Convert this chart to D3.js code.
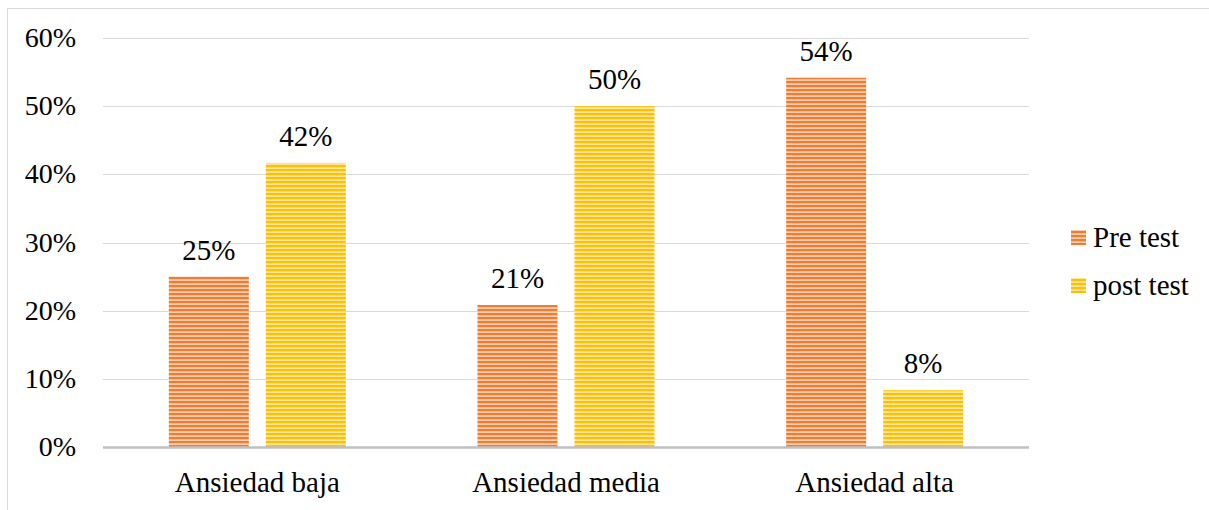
<!DOCTYPE html>
<html>
<head>
<meta charset="utf-8">
<script src="https://cdn.jsdelivr.net/npm/d3@7"></script>
</head>
<body style="margin:0;background:#fff">
<div id="chart"></div>
<script>
const categories = ["Ansiedad baja", "Ansiedad media", "Ansiedad alta"];
const seriesNames = ["Pre test", "post test"];
const preTest = [0.25, 0.2083, 0.5417];
const postTest = [0.4167, 0.50, 0.0833];
const yTicks = [0, 0.1, 0.2, 0.3, 0.4, 0.5, 0.6];

const width = 1209, height = 510;
const font = "'Times New Roman', 'Liberation Serif', Tinos, FreeSerif, serif";
const colours = { "Pre test": "#ED7D31", "post test": "#FFC000" };
const light = { "Pre test": "#F8CBAD", "post test": "#FFE699" };

const svg = d3.select("#chart").append("svg")
  .attr("width", width).attr("height", height);

// striped fills
const defs = svg.append("defs");
seriesNames.forEach((s, i) => {
  const p = defs.append("pattern")
    .attr("id", "stripe" + i)
    .attr("patternUnits", "userSpaceOnUse")
    .attr("width", 8).attr("height", 4);
  p.append("rect").attr("width", 8).attr("height", 4).attr("fill", light[s]);
  p.append("rect").attr("y", 1).attr("width", 8).attr("height", 2.2).attr("fill", colours[s]);
});

// outer chart border
svg.append("rect")
  .attr("x", 7.5).attr("y", 8.5)
  .attr("width", 1250).attr("height", 600)
  .attr("fill", "none").attr("stroke", "#D9D9D9");

const x0 = d3.scaleBand().domain(categories).range([103, 1029]);
const y = d3.scaleLinear().domain([0, 0.6]).range([447, 38]);
const barW = 80, gap = 17;

// gridlines
svg.append("g").selectAll("line")
  .data(yTicks.filter(d => d > 0))
  .enter().append("line")
  .attr("x1", 103).attr("x2", 1029)
  .attr("y1", d => Math.round(y(d)) + 0.5)
  .attr("y2", d => Math.round(y(d)) + 0.5)
  .attr("stroke", "#D9D9D9").attr("stroke-width", 1);

// y tick labels
svg.append("g").selectAll("text")
  .data(yTicks)
  .enter().append("text")
  .attr("x", 76)
  .attr("y", d => y(d) + 9)
  .attr("text-anchor", "end")
  .attr("font-family", font)
  .style("font-family", font)
  .style("font-size", "28px")
  .text(d3.format(".0%"));

const rows = [];
categories.forEach((c, i) => {
  rows.push({ cat: c, s: 0, v: preTest[i] });
  rows.push({ cat: c, s: 1, v: postTest[i] });
});
const barX = d => x0(d.cat) + (x0.bandwidth() - (2 * barW + gap)) / 2 + d.s * (barW + gap);

svg.append("g").selectAll("rect")
  .data(rows)
  .enter().append("rect")
  .attr("x", barX)
  .attr("y", d => y(d.v))
  .attr("width", barW)
  .attr("height", d => y(0) - y(d.v))
  .attr("fill", d => `url(#stripe${d.s})`);

svg.append("g").selectAll("text")
  .data(rows)
  .enter().append("text")
  .attr("x", d => barX(d) + barW / 2)
  .attr("y", d => y(d.v) - 17)
  .attr("text-anchor", "middle")
  .attr("font-family", font)
  .style("font-family", font)
  .style("font-size", "29px")
  .text(d => d3.format(".0%")(d.v));

// x axis line
svg.append("line")
  .attr("x1", 103).attr("x2", 1029)
  .attr("y1", y(0) + 0.5).attr("y2", y(0) + 0.5)
  .attr("stroke", "#BFBFBF").attr("stroke-width", 2.5);

// category labels
svg.append("g").selectAll("text")
  .data(categories)
  .enter().append("text")
  .attr("x", d => x0(d) + x0.bandwidth() / 2)
  .attr("y", 492)
  .attr("text-anchor", "middle")
  .attr("font-family", font)
  .style("font-family", font)
  .style("font-size", "29px")
  .text(d => d);

// legend
const legend = svg.append("g").selectAll("g")
  .data(seriesNames)
  .enter().append("g")
  .attr("transform", (d, i) => `translate(1071, ${230 + i * 48})`);
legend.append("rect")
  .attr("width", 15).attr("height", 15)
  .attr("fill", (d, i) => `url(#stripe${i})`);
legend.append("text")
  .attr("x", 22).attr("y", 17)
  .attr("font-family", font)
  .style("font-family", font)
  .style("font-size", "29px")
  .text(d => d);
</script>
</body>
</html>
